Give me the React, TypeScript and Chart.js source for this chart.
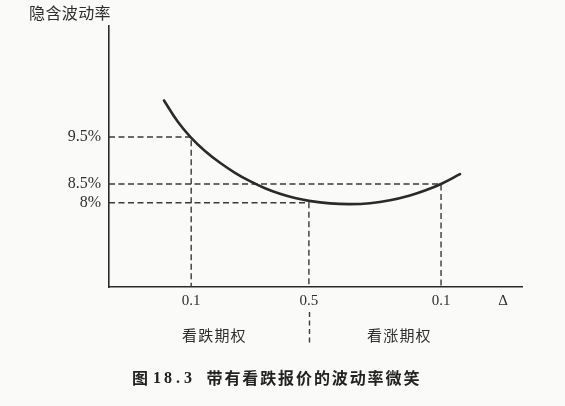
import React, { useEffect, useRef } from "react";
import { Chart, registerables } from "chart.js";

Chart.register(...registerables);

// Schematic x positions (arbitrary units along the Δ axis) and labels
const xTickPos = [19.9, 48.4, 80.4, 95.4];
const xTickLabels = ["0.1", "0.5", "0.1", "Δ"];

// Schematic y positions for the volatility tick labels
const yTickPos = [8.0, 8.508, 9.785];
const yTickLabels = ["8%", "8.5%", "9.5%"];

// Volatility smile curve
const curveX = [13.32, 16.71, 19.85, 23.24, 26.88, 30.51, 34.14, 37.77, 41.4, 45.04, 48.43, 53.51, 58.35, 63.2, 68.04, 72.88, 76.51, 80.39, 84.99];
const curveY = [10.777, 10.19, 9.769, 9.405, 9.084, 8.813, 8.584, 8.394, 8.242, 8.125, 8.049, 7.981, 7.962, 7.986, 8.065, 8.196, 8.329, 8.508, 8.774];

// Reference guide points (put Δ 0.1, ATM 0.5, call Δ 0.1)
const guideX = [19.9, 48.4, 80.4];
const guideY = [9.785, 8.0, 8.508];

const sideLabels = ["看跌期权", "看涨期权"];
const yTitle = "隐含波动率";
const captionNo = "图";
const captionNum = ["1", "8", ".", "3"];
const captionText = "带有看跌报价的波动率微笑";

const X_MIN = 0;
const X_MAX = 100;
const Y_MIN = 5.71;
const Y_MAX = 12.8;

const CJK = '"Noto Sans CJK SC", "Noto Sans CJK JP", sans-serif';
const SERIF = '"Liberation Serif", "DejaVu Serif", serif';

function drawSpaced(ctx: CanvasRenderingContext2D, text: string, x: number, y: number, pitch: number) {
  Array.from(text).forEach((c, i) => ctx.fillText(c, x + i * pitch, y));
}

export default function App() {
  const ref = useRef<HTMLCanvasElement | null>(null);

  useEffect(() => {
    const canvas = ref.current;
    if (!canvas) return;

    const textPlugin = {
      id: "textPlugin",
      beforeDraw(chart: any) {
        const { ctx } = chart;
        ctx.save();
        ctx.fillStyle = "#fafaf8";
        ctx.fillRect(0, 0, chart.width, chart.height);
        ctx.restore();
      },
      afterDraw(chart: any) {
        const { ctx } = chart;
        const xs = chart.scales.x;
        ctx.save();
        // y-axis title
        ctx.fillStyle = "#2e2e2e";
        ctx.font = `16px ${CJK}`;
        ctx.textAlign = "left";
        ctx.textBaseline = "middle";
        drawSpaced(ctx, yTitle, 29, 13, 16.4);

        // separator under the ATM tick
        const sx = Math.round(xs.getPixelForValue(guideX[1])) + 0.5;
        ctx.strokeStyle = "#3a3a3a";
        ctx.lineWidth = 1.4;
        ctx.setLineDash([5, 3.5]);
        ctx.beginPath();
        ctx.moveTo(sx, 312);
        ctx.lineTo(sx, 343);
        ctx.stroke();
        ctx.setLineDash([]);

        // side labels
        ctx.font = `15px ${CJK}`;
        ctx.textAlign = "left";
        ctx.fillStyle = "#2e2e2e";
        drawSpaced(ctx, sideLabels[0], 182, 335, 16.2);
        drawSpaced(ctx, sideLabels[1], 367, 335, 16.2);

        // caption
        ctx.fillStyle = "#222";
        ctx.font = `bold 16px ${CJK}`;
        ctx.fillText(captionNo, 132, 378);
        ctx.font = `bold 16px ${SERIF}`;
        const numX = [153, 164, 176, 184];
        captionNum.forEach((c, i) => ctx.fillText(c, numX[i], 379));
        ctx.font = `bold 16px ${CJK}`;
        drawSpaced(ctx, captionText, 206.5, 378, 17.9);
        ctx.restore();
      },
    };

    const curveData = curveX.map((x, i) => ({ x, y: curveY[i] }));
    const guideSets = guideX.map((gx, i) => ({
      data: [
        { x: X_MIN, y: guideY[i] },
        { x: gx, y: guideY[i] },
        { x: gx, y: Y_MIN },
      ],
      borderColor: "#3a3a3a",
      borderWidth: 1.4,
      borderDash: [6, 3.5],
      pointRadius: 0,
      tension: 0,
      fill: false,
    }));

    const chart = new Chart(canvas, {
      type: "line",
      data: {
        datasets: [
          {
            data: curveData,
            borderColor: "#2a2a2a",
            borderWidth: 2.6,
            pointRadius: 0,
            tension: 0.4,
            borderCapStyle: "round",
            fill: false,
          },
          ...guideSets,
        ] as any,
      },
      options: {
        responsive: false,
        animation: false,
        layout: { padding: { top: 26, right: 43, left: 0, bottom: 0 } },
        plugins: {
          legend: { display: false },
          tooltip: { enabled: false },
          title: { display: false },
        },
        scales: {
          x: {
            type: "linear",
            min: X_MIN,
            max: X_MAX,
            grid: { display: false, drawTicks: false },
            border: { display: true, color: "#2a2a2a", width: 1.6 },
            afterBuildTicks: (scale: any) => {
              scale.ticks = xTickPos.map((v) => ({ value: v }));
            },
            afterFit: (scale: any) => {
              scale.height = 119;
            },
            ticks: {
              autoSkip: false,
              maxRotation: 0,
              padding: 5,
              color: "#2e2e2e",
              font: { family: SERIF, size: 15 },
              callback: (_v: any, i: number) => xTickLabels[i],
            },
          },
          y: {
            type: "linear",
            min: Y_MIN,
            max: Y_MAX,
            grid: { display: false, drawTicks: false },
            border: { display: true, color: "#2a2a2a", width: 1.6 },
            afterBuildTicks: (scale: any) => {
              scale.ticks = yTickPos.map((v) => ({ value: v }));
            },
            afterFit: (scale: any) => {
              scale.width = 109;
            },
            ticks: {
              autoSkip: false,
              padding: 8,
              color: "#2e2e2e",
              font: { family: SERIF, size: 16 },
              callback: (_v: any, i: number) => yTickLabels[i],
            },
          },
        },
      } as any,
      plugins: [textPlugin],
    });

    return () => chart.destroy();
  }, []);

  return (
    <div style={{ position: "fixed", left: 0, top: 0, width: 565, height: 406 }}>
      <canvas ref={ref} width={565} height={406} style={{ display: "block" }} />
    </div>
  );
}
